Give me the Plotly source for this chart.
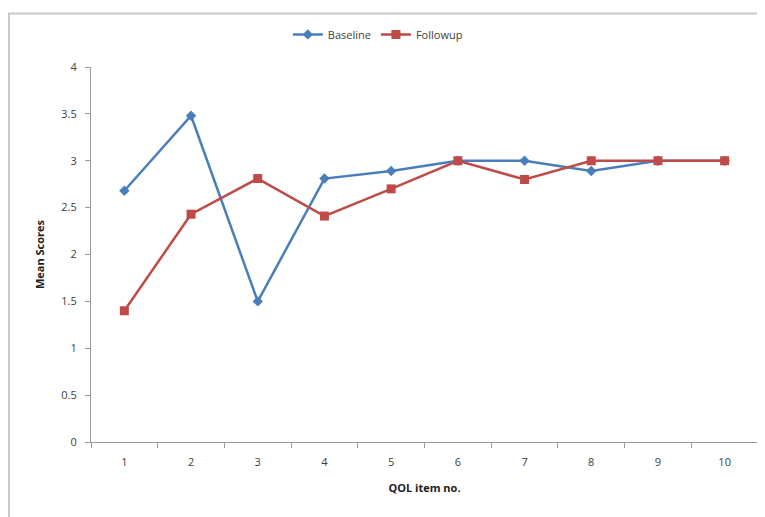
import plotly.graph_objects as go

items = ["1", "2", "3", "4", "5", "6", "7", "8", "9", "10"]
baseline = [2.68, 3.48, 1.5, 2.81, 2.89, 3.0, 3.0, 2.89, 3.0, 3.0]
followup = [1.4, 2.43, 2.81, 2.41, 2.7, 3.0, 2.8, 3.0, 3.0, 3.0]
y_ticks = [0, 0.5, 1, 1.5, 2, 2.5, 3, 3.5, 4]
y_tick_text = ["0", "0.5", "1", "1.5", "2", "2.5", "3", "3.5", "4"]

font_family = "Open Sans, Lato, sans-serif"

fig = go.Figure()
fig.add_trace(go.Scatter(
    x=items, y=baseline, name="Baseline", mode="lines+markers",
    line=dict(color="#4a7ebb", width=2.5),
    marker=dict(symbol="diamond", size=8, color="#4a7ebb"),
))
fig.add_trace(go.Scatter(
    x=items, y=followup, name="Followup", mode="lines+markers",
    line=dict(color="#be4b48", width=2.5),
    marker=dict(symbol="square", size=9, color="#be4b48"),
))

fig.update_layout(
    width=765, height=517,
    margin=dict(l=83, r=15, t=55, b=83),
    plot_bgcolor="white", paper_bgcolor="white",
    font=dict(family=font_family, size=11, color="#404040"),
    showlegend=True,
    legend=dict(orientation="h", x=0.43, xanchor="center", y=1.087, yanchor="middle",
                font=dict(size=11, color="#404040"), itemwidth=30),
    xaxis=dict(
        type="category", range=[-0.5, 9.5],
        showgrid=False, showline=True, linecolor="#9a9a9a", linewidth=1,
        ticks="outside", tickson="boundaries", ticklen=5, tickcolor="#9a9a9a",
        ticklabelstandoff=10,
        title=dict(text="<b>QOL item no.</b>", font=dict(size=11, color="#202020"), standoff=16),
        tickfont=dict(size=11, color="#404040"),
    ),
    yaxis=dict(
        range=[0, 4], tickvals=y_ticks, ticktext=y_tick_text,
        showgrid=False, showline=True, linecolor="#9a9a9a", linewidth=1,
        ticks="outside", ticklen=5, tickcolor="#9a9a9a", zeroline=False,
        ticklabelstandoff=6,
        title=dict(text="<b>Mean Scores</b>", font=dict(size=11, color="#202020"), standoff=14),
        tickfont=dict(size=11, color="#404040"),
    ),
    shapes=[dict(type="rect", xref="paper", yref="paper",
                 x0=-0.123, x1=1.05, y0=-0.3, y1=1.143,
                 line=dict(color="#c8c8c8", width=2), fillcolor="rgba(0,0,0,0)", layer="below")],
)

fig.write_html("out.html")
